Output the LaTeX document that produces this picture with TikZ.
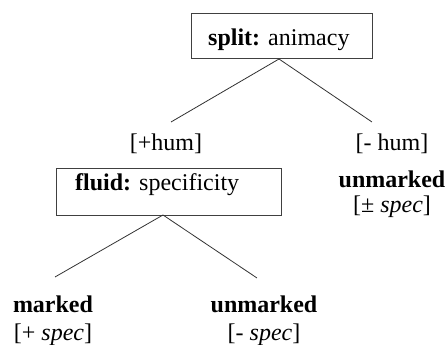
\documentclass[tikz,border=0pt]{standalone}
\usepackage{fontspec}
\setmainfont{Liberation Serif}[ItalicFont={Liberation Serif Italic},BoldFont={Liberation Serif Bold}]
\begin{document}
\begin{tikzpicture}[x=1pt,y=1pt,
  boxnode/.style={draw=black!75,line width=0.9pt,inner sep=0pt},
  lbl/.style={anchor=base,inner sep=0pt,font=\fontsize{24}{28}\selectfont},
  branch/.style={draw=black!80,line width=0.8pt}]
\useasboundingbox (0,0) rectangle (448,345);
% boxes
\node[boxnode,minimum width=181pt,minimum height=45pt] (splitbox) at (281.5,309.5) {};
\node[lbl,anchor=base west] (splittxt) at (208,299) {\textbf{split:} animacy};
\node[boxnode,minimum width=225pt,minimum height=47pt] (fluidbox) at (168.5,153.5) {};
\node[lbl,anchor=base west] (fluidtxt) at (75,154) {\textbf{fluid:} specificity};
% labels
\node[lbl] (plushum) at (166,194) {[+hum]};
\node[lbl] (minushum) at (392,194) {[- hum]};
\node[lbl] (unm1) at (392,157) {\textbf{unmarked}};
\node[lbl] (pmspec) at (392,132) {[\textpm\ \textit{spec}]};
\node[lbl] (marked) at (53,32) {\textbf{marked}};
\node[lbl] (plusspec) at (53,4.5) {[+ \textit{spec}]};
\node[lbl] (unm2) at (264,32) {\textbf{unmarked}};
\node[lbl] (minusspec) at (264,4.5) {[- \textit{spec}]};
% connectors
\coordinate (apex1) at (279,286);
\coordinate (l1) at (171,223);
\coordinate (r1) at (372,223);
\coordinate (apex2) at (163,130);
\coordinate (l2) at (55,68);
\coordinate (r2) at (257,67);
\draw[branch] (l1) -- (apex1) -- (r1);
\draw[branch] (l2) -- (apex2) -- (r2);
\end{tikzpicture}
\end{document}
